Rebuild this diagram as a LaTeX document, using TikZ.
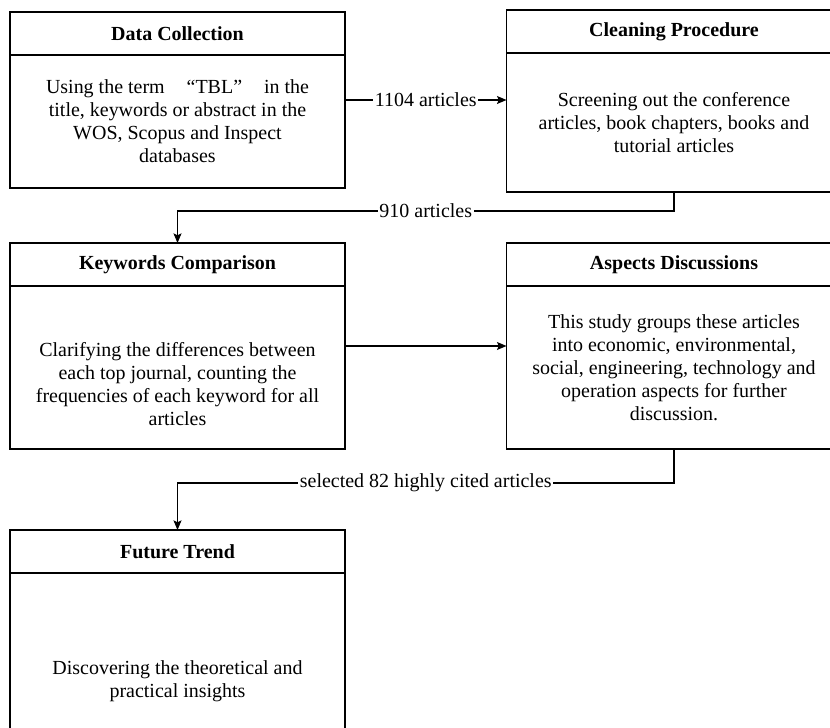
\documentclass[tikz,border=0pt]{standalone}
\usepackage{fontspec}
\setmainfont{Liberation Serif}
\usetikzlibrary{positioning,calc,arrows.meta}

\begin{document}
\begin{tikzpicture}[x=0.022cm, y=-0.022cm,
  headbox/.style={draw, line width=0.7pt, minimum width=7.37cm, minimum height=0.946cm, inner sep=0pt, outer sep=0pt, font=\fontsize{12.5}{14.4}\selectfont\bfseries},
  bodybox/.style={draw, line width=0.7pt, minimum width=7.37cm, inner sep=0pt, outer sep=0pt, align=center, font=\fontsize{12.5}{14.4}\selectfont},
  flow/.style={line width=0.7pt, -{Stealth[length=6pt,width=5pt,inset=1.2pt]}},
  count/.style={fill=white, inner sep=1pt, font=\fontsize{12.5}{14.4}\selectfont}]

\useasboundingbox (0,0) rectangle (830,727);
\clip (0,0) rectangle (830,727);

% top row
\node[headbox] (colhead) at (177.5,33.5) {Data Collection};
\node[bodybox, minimum height=2.926cm, below=0pt of colhead] (colbody) {Using the term\hspace{1.1em}“TBL”\hspace{1.1em}in the\\title, keywords or abstract in the\\WOS, Scopus and Inspect\\databases};

\node[headbox] (clnhead) at (674,31.5) {Cleaning Procedure};
\node[bodybox, minimum height=3.058cm, below=0pt of clnhead] (clnbody) {Screening out the conference\\articles, book chapters, books and\\tutorial articles};

% middle row
\node[headbox] (kwhead) at (177.5,264.5) {Keywords Comparison};
\node[bodybox, minimum height=3.586cm, below=0pt of kwhead] (kwbody) {};
\node[bodybox, draw=none] (kwtext) at (177.5,384) {Clarifying the differences between\\each top journal, counting the\\frequencies of each keyword for all\\articles};

\node[headbox] (asphead) at (674,264.5) {Aspects Discussions};
\node[bodybox, minimum height=3.586cm, below=0pt of asphead] (aspbody) {This study groups these articles\\into economic, environmental,\\social, engineering, technology and\\operation aspects for further\\discussion.};

% bottom row
\node[headbox] (futhead) at (177.5,551.5) {Future Trend};
\node[bodybox, minimum height=4.774cm, below=0pt of futhead] (futbody) {Discovering the theoretical and\\practical insights};

% connectors
\coordinate (colmid) at ($(colhead.north east)!.5!(colbody.south east)$);
\coordinate (kwmid) at ($(kwhead.north east)!.5!(kwbody.south east)$);

\draw[flow] (colmid) -- node[count] (cnt1104) {1104 articles} (colmid -| clnbody.west);
\draw[flow] (clnbody.south) -- ++(0,19) -| node[count, pos=.25] (cnt910) {910 articles} (kwhead.north);
\draw[flow] (kwmid) -- (kwmid -| aspbody.west);
\draw[flow] (aspbody.south) -- ++(0,34) -| node[count, pos=.25] (cnt82) {selected 82 highly cited articles} (futhead.north);

\end{tikzpicture}
\end{document}
